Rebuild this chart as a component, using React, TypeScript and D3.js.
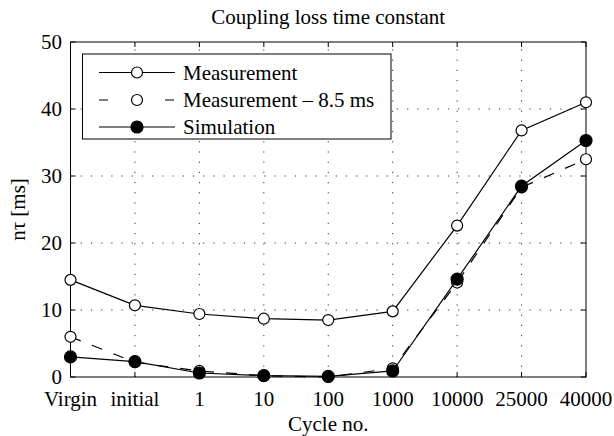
import React from "react";
import * as d3 from "d3";

const categories = ["Virgin", "initial", "1", "10", "100", "1000", "10000", "25000", "40000"];
const measurement = [14.5, 10.7, 9.4, 8.7, 8.5, 9.8, 22.6, 36.8, 41.0];
const measurementShift = [6.0, 2.2, 0.9, 0.2, 0.0, 1.3, 14.1, 28.3, 32.5];
const simulation = [3.0, 2.3, 0.6, 0.2, 0.1, 0.9, 14.6, 28.5, 35.3];
const yTicks = [0, 10, 20, 30, 40, 50];
const legendLabels = ["Measurement", "Measurement \u2013 8.5 ms", "Simulation"];

const W = 614, H = 436;
const L = 70.5, R = 586, T = 42, B = 377;
const FONT = "Liberation Serif, Times New Roman, Times, serif";
const txt = { fontFamily: FONT, fill: "black" } as React.CSSProperties;

export default function App() {
  const x = d3.scalePoint<string>().domain(categories).range([L, R]);
  const y = d3.scaleLinear().domain([0, 50]).range([B, T]);
  const line = d3
    .line<number>()
    .x((_, i) => x(categories[i]) as number)
    .y((d) => y(d));

  const series = [
    { data: measurement, dash: undefined as string | undefined, fill: "white" },
    { data: measurementShift, dash: "11,12", fill: "white" },
    { data: simulation, dash: undefined as string | undefined, fill: "black" },
  ];

  const legX = 82.5, legY = 54, legW = 308.5, legH = 85;
  const legRows = [72.5, 100, 127];

  return (
    <svg width={W} height={H} style={{ position: "absolute", left: 0, top: 0, background: "white" }}>
      <rect x={0} y={0} width={W} height={H} fill="white" />
      {/* grid */}
      <g stroke="black" strokeWidth={1} strokeDasharray="1.2,9" opacity={0.8}>
        {categories.slice(1, -1).map((c) => (
          <line key={c} x1={x(c)} x2={x(c)} y1={B} y2={T} />
        ))}
        {yTicks.slice(1, -1).map((t) => (
          <line key={t} x1={L} x2={R} y1={y(t)} y2={y(t)} />
        ))}
      </g>
      {/* ticks */}
      <g stroke="black" strokeWidth={1}>
        {categories.map((c) => (
          <g key={c}>
            <line x1={x(c)} x2={x(c)} y1={B} y2={B - 5} />
            <line x1={x(c)} x2={x(c)} y1={T} y2={T + 5} />
          </g>
        ))}
        {yTicks.map((t) => (
          <g key={t}>
            <line x1={L} x2={L + 5} y1={y(t)} y2={y(t)} />
            <line x1={R} x2={R - 5} y1={y(t)} y2={y(t)} />
          </g>
        ))}
      </g>
      <rect x={L} y={T} width={R - L} height={B - T} fill="none" stroke="black" strokeWidth={1} />
      {/* tick labels */}
      {categories.map((c) => (
        <text key={c} x={x(c)} y={406} textAnchor="middle" fontSize={21} style={txt}>{c}</text>
      ))}
      {yTicks.map((t) => (
        <text key={t} x={62} y={y(t)} dy="0.35em" textAnchor="end" fontSize={21} style={txt}>{t}</text>
      ))}
      <text x={(L + R) / 2} y={24} textAnchor="middle" fontSize={21} style={txt}>Coupling loss time constant</text>
      <text x={(L + R) / 2} y={431} textAnchor="middle" fontSize={21} style={txt}>Cycle no.</text>
      <text transform={`translate(25,${(T + B) / 2}) rotate(-90)`} textAnchor="middle" fontSize={21} style={txt}>n{"\u03c4"} [ms]</text>
      {/* series */}
      {series.map((s, si) => (
        <g key={si}>
          <path d={line(s.data) || ""} fill="none" stroke="black" strokeWidth={1.2} strokeDasharray={s.dash} />
          {s.data.map((v, i) => (
            <circle key={i} cx={x(categories[i])} cy={y(v)} r={si === 2 ? 6 : 5.5} fill={s.fill} stroke="black" strokeWidth={1.2} />
          ))}
        </g>
      ))}
      {/* legend */}
      <rect x={legX} y={legY} width={legW} height={legH} fill="white" stroke="black" strokeWidth={1} />
      {series.map((s, si) => (
        <g key={si}>
          <line x1={99} x2={175} y1={legRows[si]} y2={legRows[si]} stroke="black" strokeWidth={1.2} strokeDasharray={s.dash ? "9,24" : undefined} />
          <circle cx={137} cy={legRows[si]} r={si === 2 ? 6 : 5.5} fill={s.fill} stroke="black" strokeWidth={1.2} />
          <text x={183} y={legRows[si]} dy="0.35em" fontSize={21} style={txt}>{legendLabels[si]}</text>
        </g>
      ))}
    </svg>
  );
}
